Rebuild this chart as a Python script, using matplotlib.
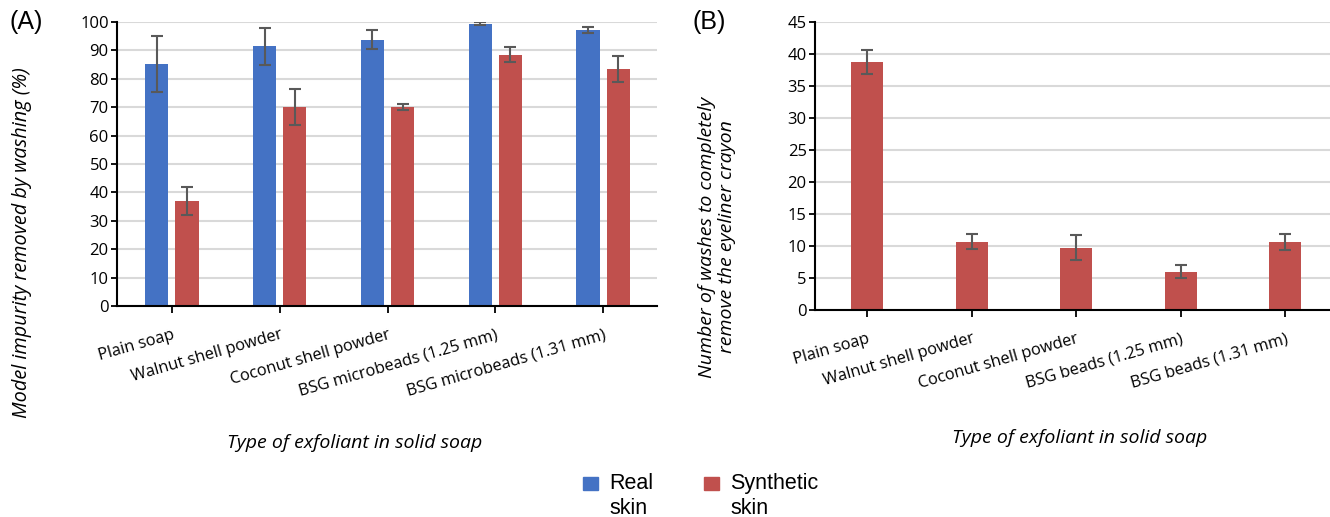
import matplotlib
matplotlib.use("Agg")
import matplotlib.pyplot as plt
from matplotlib.patches import Rectangle
import numpy as np

# ---------------- data ----------------
cats_a = ["Plain soap", "Walnut shell powder", "Coconut shell powder",
          "BSG microbeads (1.25 mm)", "BSG microbeads (1.31 mm)"]
real_vals = [85.2, 91.4, 93.8, 99.4, 97.2]
real_err = [9.8, 6.4, 3.3, 0.5, 1.2]
synth_vals = [36.9, 70.0, 70.0, 88.5, 83.5]
synth_err = [4.9, 6.3, 1.1, 2.6, 4.5]

cats_b = ["Plain soap", "Walnut shell powder", "Coconut shell powder",
          "BSG beads (1.25 mm)", "BSG beads (1.31 mm)"]
washes_vals = [38.7, 10.7, 9.7, 6.0, 10.6]
washes_err = [1.9, 1.15, 1.95, 1.05, 1.2]

BLUE = "#4472C4"
RED = "#C0504D"
ERR = "#595959"
GRID = "#D9D9D9"

W, H = 1330, 517
fig = plt.figure(figsize=(W / 100, H / 100), dpi=100)

TICKFONT = "Open Sans"
LABFONT = "Open Sans"


def px(x0, y0, x1, y1):
    return [x0 / W, 1 - y1 / H, (x1 - x0) / W, (y1 - y0) / H]


def style_axes(ax, ymax, ystep):
    ax.set_ylim(0, ymax)
    ax.set_yticks(np.arange(0, ymax + 0.1, ystep))
    ax.yaxis.grid(True, color=GRID, linewidth=1.5)
    ax.set_axisbelow(True)
    for s in ["top", "right"]:
        ax.spines[s].set_visible(False)
    for s in ["left", "bottom"]:
        ax.spines[s].set_linewidth(1.5)
        ax.spines[s].set_color("black")
    ax.tick_params(axis="y", length=4, width=1.3, pad=2, labelsize=12)
    ax.tick_params(axis="x", length=5, width=1.3, pad=10, labelsize=11.8)
    for lab in ax.get_yticklabels():
        lab.set_fontfamily(TICKFONT)


# ---------------- panel A ----------------
axA = fig.add_axes(px(117, 22, 657, 306))
x = np.arange(len(cats_a))
bw = 0.215
off = 0.14
ekw = dict(ecolor=ERR, elinewidth=1.5, capsize=4, capthick=1.5)
axA.bar(x - off, real_vals, bw, color=BLUE, yerr=real_err, error_kw=ekw, label="Real skin")
axA.bar(x + off, synth_vals, bw, color=RED, yerr=synth_err, error_kw=ekw, label="Synthetic skin")
axA.set_xlim(-0.51, 4.5)
style_axes(axA, 100, 10)
axA.set_xticks(x)
axA.set_xticklabels(cats_a, rotation=16, ha="right", va="top",
                    rotation_mode="anchor", fontfamily=TICKFONT)

# ---------------- panel B ----------------
axB = fig.add_axes(px(815, 22, 1330, 310))
xb = np.arange(len(cats_b))
axB.bar(xb, washes_vals, 0.31, color=RED, yerr=washes_err, error_kw=ekw)
axB.set_xlim(-0.5, (1330 - 815) / 104.5 - 0.5)
style_axes(axB, 45, 5)
axB.set_xticks(xb)
axB.set_xticklabels(cats_b, rotation=16, ha="right", va="top",
                    rotation_mode="anchor", fontfamily=TICKFONT)

# ---------------- labels ----------------
fig.text(355 / W, 1 - 443 / H, "Type of exfoliant in solid soap", ha="center", va="center",
         fontsize=14, style="italic", family=LABFONT)
fig.text(1080 / W, 1 - 438 / H, "Type of exfoliant in solid soap", ha="center", va="center",
         fontsize=14, style="italic", family=LABFONT)
fig.text(22 / W, 1 - 243 / H, "Model impurity removed by washing (%)", ha="center", va="center",
         rotation=90, fontsize=14.3, style="italic", family=LABFONT)
fig.text(717 / W, 1 - 237 / H, "Number of washes to completely\nremove the eyeliner crayon",
         ha="center", va="center", rotation=90, fontsize=14, style="italic",
         family=LABFONT, linespacing=1.1)

fig.text(26 / W, 1 - 22 / H, "(A)", ha="center", va="center", fontsize=18,
         family="Liberation Sans")
fig.text(709 / W, 1 - 22 / H, "(B)", ha="center", va="center", fontsize=18,
         family="Liberation Sans")

# ---------------- legend ----------------
leg_items = [(583, BLUE, "Real\nskin"), (704, RED, "Synthetic\nskin")]
for lx, col, txt in leg_items:
    fig.add_artist(Rectangle((lx / W, 1 - 490 / H), 15 / W, 13 / H, color=col,
                             transform=fig.transFigure))
    fig.text((lx + 26) / W, 1 - 496 / H, txt, ha="left", va="center", fontsize=15.5,
             family="Liberation Sans", linespacing=1.2)

fig.savefig("out.png", dpi=100)
